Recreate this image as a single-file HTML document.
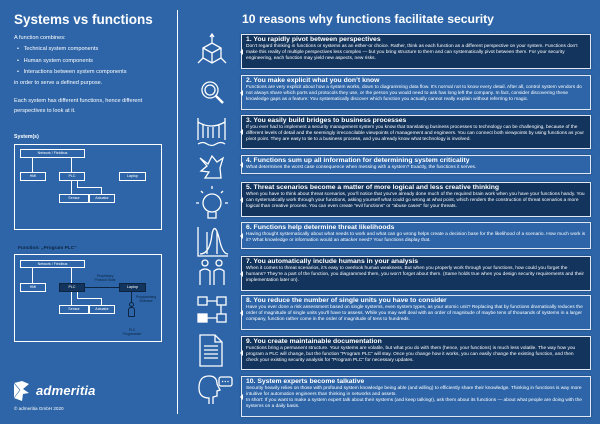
<!DOCTYPE html>
<html><head><meta charset="utf-8"><style>
*{margin:0;padding:0;box-sizing:border-box}
body{width:600px;height:424px;background:#2d65a8;font-family:"Liberation Sans",sans-serif;color:#fff;position:relative;overflow:hidden}
.a{position:absolute}
.box{position:absolute;left:241px;width:350px;border:1px solid #dfe8f3;padding:1px 4px;box-shadow:0 0 2px rgba(0,0,0,.35)}
.box.d{background:#13345c}
.box h3{font-size:6.8px;font-weight:bold;line-height:7.5px;white-space:nowrap}
.box p{font-size:4.8px;line-height:6.1px}
.box:before{content:"";position:absolute;left:-5px;top:50%;margin-top:-3px;border:3px solid transparent;border-right:3px solid #fff;width:0;height:0}
.c{position:absolute;border:1px solid #fff;font-size:3.6px;text-align:center;line-height:6px}
.c.dk{background:#13345c}
.l{position:absolute;background:#fff}
</style></head><body>
<div class="a" style="left:177px;top:10px;width:1px;height:404px;background:#fff"></div>
<div class="a" style="left:14px;top:12px;font-size:13.5px;font-weight:bold">Systems vs functions</div>
<div class="a" style="left:14px;top:33px;font-size:5.6px;line-height:11.3px">A function combines:<br>
<span style="padding-left:3px">•&nbsp;&nbsp;&nbsp;Technical system components</span><br>
<span style="padding-left:3px">•&nbsp;&nbsp;&nbsp;Human system components</span><br>
<span style="padding-left:3px">•&nbsp;&nbsp;&nbsp;Interactions between system components</span><br>
in order to serve a defined purpose.</div>
<div class="a" style="left:14px;top:97px;font-size:5.6px;line-height:9.5px">Each system has different functions, hence different<br>perspectives to look at it.</div>

<div class="a" style="left:14px;top:134px;font-size:5.2px;font-weight:bold">System(s)</div>
<div class="a" style="left:14px;top:144px;width:148px;height:86px;border:1px solid #fff"></div>
<div class="c" style="left:20px;top:149px;width:65px;height:9px;line-height:7px">Network / Fieldbus</div>
<div class="l" style="left:32px;top:158px;width:1px;height:14px"></div>
<div class="l" style="left:71px;top:158px;width:1px;height:14px"></div>
<div class="c" style="left:20px;top:172px;width:26px;height:9px">HMI</div>
<div class="c" style="left:59px;top:172px;width:26px;height:9px">PLC</div>
<div class="c" style="left:119px;top:172px;width:27px;height:9px">Laptop</div>
<div class="l" style="left:71px;top:181px;width:1px;height:13px"></div>
<div class="l" style="left:77px;top:181px;width:1px;height:7px"></div>
<div class="l" style="left:77px;top:187px;width:24px;height:1px"></div>
<div class="l" style="left:101px;top:187px;width:1px;height:7px"></div>
<div class="c" style="left:59px;top:194px;width:30px;height:9px">Sensor</div>
<div class="c" style="left:89px;top:194px;width:26px;height:9px">Actuator</div>

<div class="a" style="left:18px;top:246px;font-size:4.8px;font-weight:bold;color:#0d2440">Function: „Program PLC“</div>
<div class="a" style="left:14px;top:254px;width:148px;height:88px;border:1px solid #fff"></div>
<div class="c" style="left:20px;top:260px;width:65px;height:8px;line-height:6px">Network / Fieldbus</div>
<div class="l" style="left:32px;top:268px;width:1px;height:15px"></div>
<div class="l" style="left:71px;top:268px;width:1px;height:15px"></div>
<div class="c" style="left:20px;top:283px;width:26px;height:9px">HMI</div>
<div class="c dk" style="left:59px;top:283px;width:26px;height:9px;border-color:#0d2440">PLC</div>
<div class="l" style="left:85px;top:287px;width:34px;height:1px;background:#0d2440"></div>
<div class="a" style="left:88px;top:274px;font-size:3.4px;line-height:4px;text-align:center;width:34px;color:#0d2440">Proprietary<br>Protocol Suite</div>
<div class="c dk" style="left:119px;top:283px;width:27px;height:9px;border-color:#0d2440">Laptop</div>
<div class="l" style="left:131px;top:292px;width:1px;height:10px;background:#0d2440"></div>
<div class="a" style="left:133px;top:295px;font-size:3.4px;line-height:4px;text-align:center;width:26px;color:#0d2440">Programming<br>Software</div>
<div class="a" style="left:129px;top:302px;width:5px;height:5px;border:1px solid #0d2440;border-radius:50%"></div>
<div class="a" style="left:128px;top:307px;width:7px;height:10px;border:1px solid #0d2440;border-radius:3px 3px 1px 1px"></div>
<div class="a" style="left:119px;top:328px;font-size:3.4px;line-height:4px;text-align:center;width:26px;color:#0d2440">PLC<br>Programmer</div>
<div class="l" style="left:71px;top:292px;width:1px;height:13px"></div>
<div class="l" style="left:77px;top:292px;width:1px;height:7px"></div>
<div class="l" style="left:77px;top:298px;width:24px;height:1px"></div>
<div class="l" style="left:101px;top:298px;width:1px;height:7px"></div>
<div class="c" style="left:59px;top:305px;width:30px;height:9px">Sensor</div>
<div class="c" style="left:89px;top:305px;width:26px;height:9px">Actuator</div>

<svg class="a" style="left:13px;top:381px" width="18" height="20" viewBox="0 0 18 20"><polygon points="1,2 9,0 16,3 10,8 16,12 10,13 9,20 1,17" fill="#fff"/><polyline points="1,2 7,9 1,17 M9,0 7,9 9,20 M7,9 16,3" fill="none" stroke="#2c64a7" stroke-width=".6"/></svg>
<div class="a" style="left:36px;top:383px;font-size:13px;font-weight:bold;font-style:italic;letter-spacing:.2px">admeritia</div>
<div class="a" style="left:14px;top:406px;font-size:4.6px">© admeritia GmbH 2020</div>

<div class="a" style="left:242px;top:12px;font-size:12.2px;font-weight:bold">10 reasons why functions facilitate security</div>

<svg class="a" style="left:195px;top:30px" width="40" height="390" fill="none" stroke="#fff" stroke-width="1.3">
<g><path d="M8 18 L17 13 L26 18 L26 28 L17 33 L8 28Z M8 18 L17 23 L26 18 M17 23 V33 M17 13 V5 M15 7 L17 4 L19 7 M8 28 L3 33 M26 28 L31 33"/></g>
<g transform="translate(0,40)"><circle cx="15" cy="20" r="8"/><circle cx="15" cy="20" r="5"/><path d="M21 26 L28 33" stroke-width="2.5"/></g>
<g transform="translate(0,80)"><path d="M3 8 V30 M30 8 V30 M3 12 Q16 20 30 12 M8 15 V28 M13 17 V28 M18 17 V28 M24 15 V28 M3 34 Q8 31 12 34 Q17 37 21 34 Q26 31 30 34"/></g>
<g transform="translate(0,120)"><path d="M5 8 L13 14 L17 6 L22 12 L28 8 L25 18 L26 28 L10 28 L14 22 L6 21 L12 16Z"/></g>
<g transform="translate(0,155)"><circle cx="17" cy="18" r="9"/><path d="M13 27 V33 H21 V27 M17 4 V1 M8 8 L6 6 M26 8 L28 6 M4 18 H1 M30 18 H33"/></g>
<g transform="translate(0,192)"><path d="M3 5 V34 H33 M5 32 Q15 32 17 12 Q20 -2 25 20 Q28 32 33 32 M12 10 V32 M22 10 V32"/></g>
<g transform="translate(0,225)"><circle cx="10" cy="8" r="3"/><circle cx="24" cy="8" r="3"/><path d="M5 30 V16 Q10 12 15 16 V30 M19 30 V16 Q24 12 29 16 V30"/></g>
<g transform="translate(0,262)"><rect x="3" y="5" width="9" height="8"/><rect x="22" y="5" width="9" height="8"/><rect x="3" y="22" width="9" height="8" fill="#fff"/><rect x="22" y="22" width="9" height="8"/><path d="M12 9 H22 M26 13 V22 M12 26 H22"/></g>
<g transform="translate(0,302)"><path d="M5 3 H20 L27 10 V34 H5Z M20 3 V10 H27 M9 14 H23 M9 18 H23 M9 22 H23 M9 26 H23"/></g>
<g transform="translate(0,340)"><path d="M14 34 V28 Q4 28 4 18 Q4 6 14 6 Q22 6 22 14 L25 20 L22 21 V26 L18 27 V34"/><rect x="24" y="7" width="13" height="9" rx="2"/><path d="M27 11.5 H34" stroke-dasharray="1.2 1.5"/></g>
</svg>

<div class="box d" style="top:34px;height:35px"><h3>1. You rapidly pivot between perspectives</h3><p>Don’t regard thinking in functions or systems as an either-or choice. Rather, think as each function as a different perspective on your system. Functions don’t make this reality of multiple perspectives less complex — but you bring structure to them and can systematically pivot between them. For your security engineering, each function may yield new aspects, new risks.</p></div>
<div class="box" style="top:75px;height:35px"><h3>2. You make explicit what you don’t know</h3><p>Functions are very explicit about how a system works, down to diagramming data flow. It’s normal not to know every detail. After all, control system vendors do not always share which ports and protocols they use, or the person you would need to ask has long left the company. In fact, consider discovering these knowledge gaps as a feature: You systematically discover which function you actually cannot really explain without referring to magic.</p></div>
<div class="box d" style="top:115px;height:34px"><h3>3. You easily build bridges to business processes</h3><p>If you ever had to implement a security management system you know that translating business processes to technology can be challenging, because of the different levels of detail and the seemingly irreconcilable viewpoints of management and engineers. You can connect both viewpoints by using functions as your pivot point. They are easy to tie to a business process, and you already know what technology is involved.</p></div>
<div class="box" style="top:155px;height:19px"><h3>4. Functions sum up all information for determining system criticality</h3><p>What determines the worst case consequence when messing with a system? Exactly, the functions it serves.</p></div>
<div class="box d" style="top:182px;height:35px"><h3>5. Threat scenarios become a matter of more logical and less creative thinking</h3><p>When you have to think about threat scenarios, you’ll notice that you’ve already done much of the required brain work when you have your functions handy. You can systematically work through your functions, asking yourself what could go wrong at what point, which renders the construction of threat scenarios a more logical than creative process. You can even create “evil functions” or “abuse cases” for your threats.</p></div>
<div class="box" style="top:222px;height:27px"><h3>6. Functions help determine threat likelihoods</h3><p>Having thought systematically about what needs to work and what can go wrong helps create a decision base for the likelihood of a scenario. How much work is it? What knowledge or information would an attacker need? Your functions display that.</p></div>
<div class="box d" style="top:256px;height:35px"><h3>7. You automatically include humans in your analysis</h3><p>When it comes to threat scenarios, it’s easy to overlook human weakness. But when you properly work through your functions, how could you forget the humans? They’re a part of the function, you diagrammed them, you won’t forget about them. (Same holds true when you design security requirements and their implementation later on).</p></div>
<div class="box" style="top:295px;height:35px"><h3>8. You reduce the number of single units you have to consider</h3><p>Have you ever done a risk assessment based on single systems, even system types, as your atomic unit? Replacing that by functions dramatically reduces the order of magnitude of single units you’ll have to assess. While you may well deal with an order of magnitude of maybe tens of thousands of systems in a larger company, function rather come in the order of magnitude of tens to hundreds.</p></div>
<div class="box d" style="top:336px;height:34px"><h3>9. You create maintainable documentation</h3><p>Functions bring a permanent structure. Your systems are volatile, but what you do with them (hence, your functions) is much less volatile. The way how you program a PLC will change, but the function “Program PLC” will stay. Once you change how it works, you can easily change the existing function, and then check your existing security analysis for “Program PLC” for necessary updates.</p></div>
<div class="box" style="top:376px;height:41px"><h3>10. System experts become talkative</h3><p>Security heavily relies on those with profound system knowledge being able (and willing) to efficiently share their knowledge. Thinking in functions is way more intuitive for automation engineers than thinking in networks and assets.<br>In short: If you want to make a system expert talk about their systems (and keep talking!), ask them about its functions — about what people are doing with the systems on a daily basis.</p></div>
</body></html>
